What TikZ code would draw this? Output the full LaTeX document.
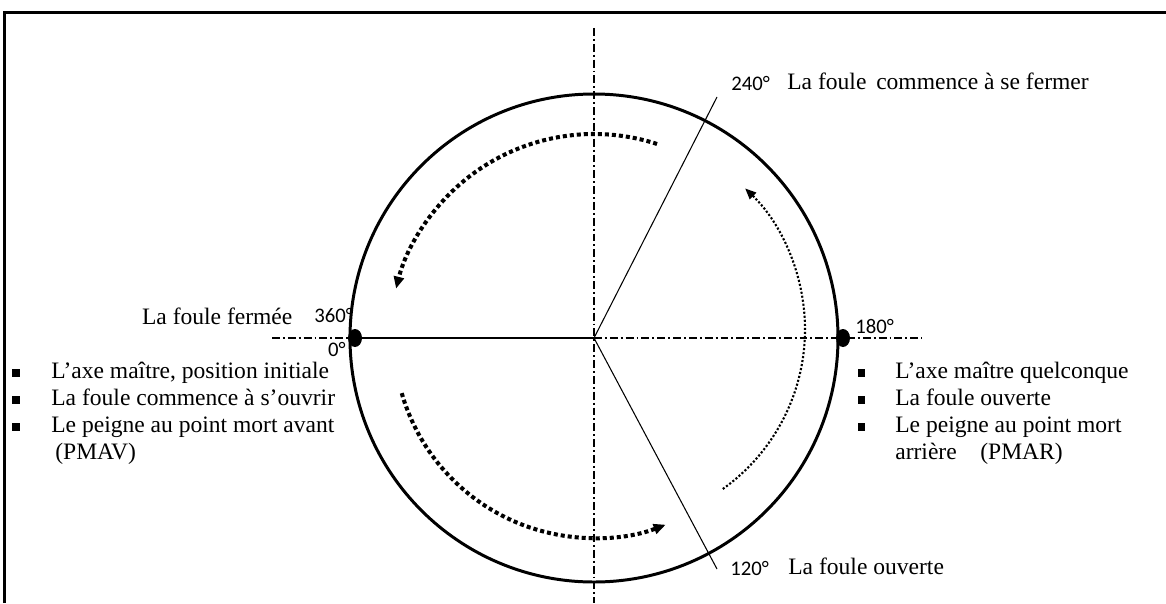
\documentclass[tikz,border=0pt]{standalone}
\usepackage{fontspec}
\setmainfont{Liberation Serif}
\newfontfamily\degfont{Carlito}
\usetikzlibrary{arrows.meta}
\begin{document}
\begin{tikzpicture}[x=0.02cm,y=0.02cm,
  every node/.style={inner sep=0pt,font=\fontsize{13.4}{16}\selectfont},
  deg/.style={font=\degfont\fontsize{11.8}{13}\selectfont,anchor=base west},
  txt/.style={anchor=base west},
  axe/.style={line width=0.6pt,dash pattern=on 4.5pt off 1.7pt on 1.1pt off 1.7pt},
  rayon/.style={line width=0.6pt},
  fleche/.style={line width=2.3pt,dash pattern=on 2.3pt off 1.7pt,-{Triangle[length=2.4mm,width=2mm]}},
  bullet/.style={fill=black,minimum size=4.2pt}]
\useasboundingbox (0,0) rectangle (1166,603);
% cadre
\draw[line width=2pt] (4.5,0) -- (4.5,590.5) -- (1166,590.5);
% centre et points
\coordinate (O) at (594,265);
\coordinate (V1) at (594,575);
\coordinate (V2) at (594,0);
\coordinate (H1) at (272,265);
\coordinate (H2) at (922,265);
\coordinate (R240) at (717,506);
\coordinate (R120) at (717,34);
\coordinate (P0) at (355,265);
\coordinate (P180) at (843,265);
\draw[line width=1.7pt] (O) circle (244);
\draw[axe] (V1) -- (V2);
\draw[axe] (O) -- (H2);
\fill (P0) ellipse (7 and 9);
\fill (P180) ellipse (7 and 9);
\draw[axe] (H1) -- (P0);
\draw[rayon] (P0) -- (O);
\draw[rayon] (O) -- (R240);
\draw[rayon] (O) -- (R120);
% fleches
\draw[fleche] ([shift={(72:204)}]O) arc[start angle=72,end angle=166,radius=204];
\draw[fleche] ([shift={(-164:200)}]O) arc[start angle=-164,end angle=-69,radius=200];
\draw[line width=1.2pt,dash pattern=on 1.2pt off 1.1pt,-{Triangle[length=2.2mm,width=1.8mm]}]
  ([shift={(-54.5:196)}]609,273.6) arc[start angle=-54.5,end angle=46,radius=196];
% angles
\node[deg] (a240) at (731,512.5) {240°};
\node[txt] (t240) at (787,513.7) {La foule\, commence à se fermer};
\node[deg] (a120) at (730,28) {120°};
\node[txt] (t120) at (788,29) {La foule ouverte};
\node[deg] (a360) at (314,281) {360°};
\node[deg] (a0) at (327.7,247) {0°};
\node[deg] (a180) at (855,270) {180°};
\node[txt] (t0) at (141.7,279) {La foule fermée};
% listes
\foreach \y/\t in {225/{L’axe maître, position initiale},198/{La foule commence à s’ouvrir},171/{Le peigne au point mort avant}}{
  \node[bullet] at (16,\y+5) {};
  \node[txt] at (51,\y) {\t};
}
\node[txt] (pmav) at (55,144) {(PMAV)};
\foreach \y/\t in {225/{L’axe maître quelconque},198/{La foule ouverte},171/{Le peigne au point mort}}{
  \node[bullet] at (861.5,\y+5) {};
  \node[txt] at (895,\y) {\t};
}
\node[txt] (pmar) at (895,144) {arrière\quad(PMAR)};
\end{tikzpicture}
\end{document}
